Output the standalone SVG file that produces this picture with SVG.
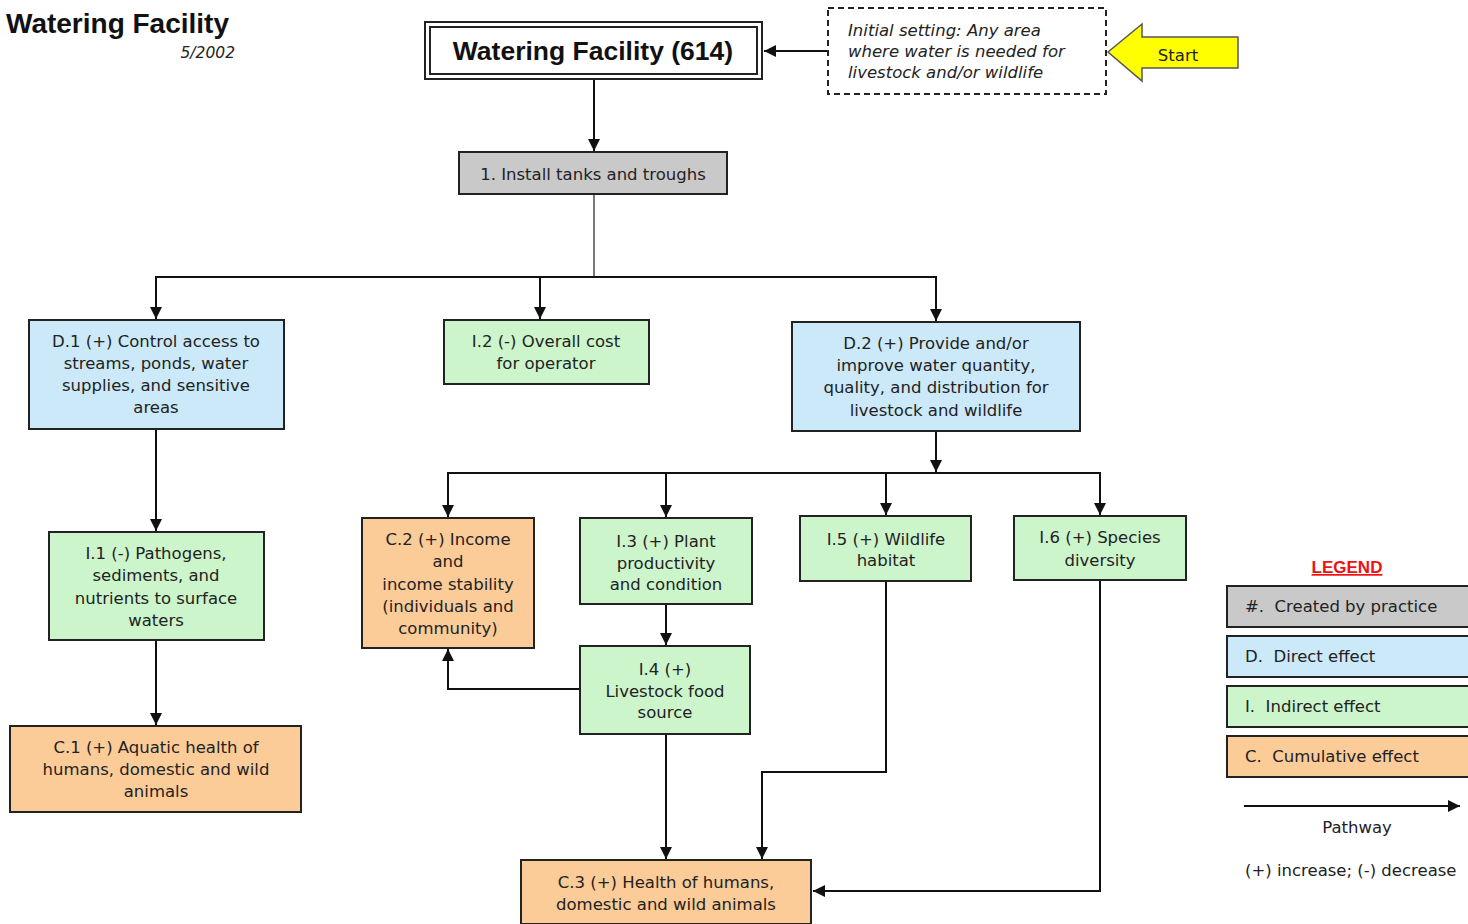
<svg xmlns="http://www.w3.org/2000/svg" width="1468" height="924" viewBox="0 0 1468 924">
<style>
.t{font-family:"DejaVu Sans","Liberation Sans",Arial,sans-serif;font-size:16.5px;fill:#222;text-anchor:middle}
.l{font-family:"DejaVu Sans","Liberation Sans",Arial,sans-serif;font-size:16.5px;fill:#222;white-space:pre}
.box{stroke:#222;stroke-width:2}
.g{fill:#c9c9c9}.b{fill:#cce9f9}.gr{fill:#ccf5cc}.o{fill:#fbcb98}
.c{fill:none;stroke:#111;stroke-width:2}
</style>
<defs>
<marker id="ah" viewBox="0 0 10 10" refX="10" refY="5" markerWidth="6" markerHeight="6" orient="auto" markerUnits="strokeWidth">
<path d="M0,0 L10,5 L0,10 z" fill="#111"/>
</marker>
</defs>
<rect width="1468" height="924" fill="#fff"/>
<g id="title">
<text x="6" y="33" font-family="Liberation Sans,Arial,sans-serif" font-size="28" font-weight="bold" fill="#111">Watering Facility</text>
<text x="235" y="58" font-family="DejaVu Sans,Liberation Sans,sans-serif" font-size="15.5" font-style="italic" fill="#222" text-anchor="end">5/2002</text>
</g>
<g id="connectors">
<line class="c" x1="828" y1="51" x2="764" y2="51" marker-end="url(#ah)"/>
<line class="c" x1="594" y1="79" x2="594" y2="151" marker-end="url(#ah)"/>
<line x1="594" y1="194" x2="594" y2="277" stroke="#777" stroke-width="2"/>
<line class="c" x1="155" y1="277" x2="937" y2="277"/>
<line class="c" x1="156" y1="277" x2="156" y2="319" marker-end="url(#ah)"/>
<line class="c" x1="540" y1="277" x2="540" y2="319" marker-end="url(#ah)"/>
<line class="c" x1="936" y1="277" x2="936" y2="321" marker-end="url(#ah)"/>
<line class="c" x1="156" y1="429" x2="156" y2="531" marker-end="url(#ah)"/>
<line class="c" x1="156" y1="640" x2="156" y2="725" marker-end="url(#ah)"/>
<line class="c" x1="936" y1="431" x2="936" y2="472" marker-end="url(#ah)"/>
<line class="c" x1="447" y1="473" x2="1101" y2="473"/>
<line class="c" x1="448" y1="473" x2="448" y2="517" marker-end="url(#ah)"/>
<line class="c" x1="666" y1="473" x2="666" y2="517" marker-end="url(#ah)"/>
<line class="c" x1="886" y1="473" x2="886" y2="515" marker-end="url(#ah)"/>
<line class="c" x1="1100" y1="473" x2="1100" y2="515" marker-end="url(#ah)"/>
<line class="c" x1="666" y1="604" x2="666" y2="645" marker-end="url(#ah)"/>
<polyline class="c" points="580,689 448,689 448,649" marker-end="url(#ah)"/>
<line class="c" x1="666" y1="734" x2="666" y2="859" marker-end="url(#ah)"/>
<polyline class="c" points="886,581 886,772 762,772 762,859" marker-end="url(#ah)"/>
<polyline class="c" points="1100,580 1100,891 813,891" marker-end="url(#ah)"/>
</g>
<g id="main">
<rect x="425" y="22" width="337" height="57" fill="#fff" stroke="#222" stroke-width="2"/>
<rect x="430" y="27" width="327" height="47" fill="none" stroke="#222" stroke-width="2"/>
<text x="593" y="60" font-family="Liberation Sans,Arial,sans-serif" font-size="26.5" font-weight="bold" fill="#111" text-anchor="middle">Watering Facility (614)</text>
</g>
<g id="initial">
<rect x="828" y="8" width="278" height="86" fill="#fff" stroke="#222" stroke-width="2" stroke-dasharray="6,4"/>
<text class="l" font-style="italic"><tspan x="848" y="36">Initial setting: Any area</tspan><tspan x="848" y="57">where water is needed for</tspan><tspan x="848" y="78">livestock and/or wildlife</tspan></text>
</g>
<g id="start">
<polygon points="1108,52 1142,24 1142,37 1238,37 1238,68 1142,68 1142,81" fill="#ffff00" stroke="#555" stroke-width="1.5"/>
<text class="t" x="1178" y="61">Start</text>
</g>
<g id="n1">
<rect class="box g" x="459" y="152" width="268" height="42"/>
<text class="t" x="593" y="180">1. Install tanks and troughs</text>
</g>
<g id="d1">
<rect class="box b" x="29" y="320" width="255" height="109"/>
<text class="t"><tspan x="156" y="347">D.1 (+) Control access to</tspan><tspan x="156" y="369">streams, ponds, water</tspan><tspan x="156" y="391">supplies, and sensitive</tspan><tspan x="156" y="413">areas</tspan></text>
</g>
<g id="i2">
<rect class="box gr" x="444" y="320" width="205" height="64"/>
<text class="t"><tspan x="546" y="347">I.2 (-) Overall cost</tspan><tspan x="546" y="369">for operator</tspan></text>
</g>
<g id="d2">
<rect class="box b" x="792" y="322" width="288" height="109"/>
<text class="t"><tspan x="936" y="349">D.2 (+) Provide and/or</tspan><tspan x="936" y="371">improve water quantity,</tspan><tspan x="936" y="393">quality, and distribution for</tspan><tspan x="936" y="416">livestock and wildlife</tspan></text>
</g>
<g id="i1">
<rect class="box gr" x="49" y="532" width="215" height="108"/>
<text class="t"><tspan x="156" y="559">I.1 (-) Pathogens,</tspan><tspan x="156" y="581">sediments, and</tspan><tspan x="156" y="604">nutrients to surface</tspan><tspan x="156" y="626">waters</tspan></text>
</g>
<g id="c1">
<rect class="box o" x="10" y="726" width="291" height="86"/>
<text class="t"><tspan x="156" y="753">C.1 (+) Aquatic health of</tspan><tspan x="156" y="775">humans, domestic and wild</tspan><tspan x="156" y="797">animals</tspan></text>
</g>
<g id="c2">
<rect class="box o" x="362" y="518" width="172" height="130"/>
<text class="t"><tspan x="448" y="545">C.2 (+) Income</tspan><tspan x="448" y="567">and</tspan><tspan x="448" y="590">income stability</tspan><tspan x="448" y="612">(individuals and</tspan><tspan x="448" y="634">community)</tspan></text>
</g>
<g id="i3">
<rect class="box gr" x="580" y="518" width="172" height="86"/>
<text class="t"><tspan x="666" y="547">I.3 (+) Plant</tspan><tspan x="666" y="569">productivity</tspan><tspan x="666" y="590">and condition</tspan></text>
</g>
<g id="i5">
<rect class="box gr" x="800" y="516" width="171" height="65"/>
<text class="t"><tspan x="886" y="545">I.5 (+) Wildlife</tspan><tspan x="886" y="566">habitat</tspan></text>
</g>
<g id="i6">
<rect class="box gr" x="1014" y="516" width="172" height="64"/>
<text class="t"><tspan x="1100" y="543">I.6 (+) Species</tspan><tspan x="1100" y="566">diversity</tspan></text>
</g>
<g id="i4">
<rect class="box gr" x="580" y="646" width="170" height="88"/>
<text class="t"><tspan x="665" y="675">I.4 (+)</tspan><tspan x="665" y="697">Livestock food</tspan><tspan x="665" y="718">source</tspan></text>
</g>
<g id="c3">
<rect class="box o" x="521" y="860" width="290" height="64"/>
<text class="t"><tspan x="666" y="888">C.3 (+) Health of humans,</tspan><tspan x="666" y="910">domestic and wild animals</tspan></text>
</g>
<g id="legend">
<text x="1347" y="573" font-family="Liberation Sans,Arial,sans-serif" font-size="17" font-weight="bold" fill="#ee1111" text-anchor="middle" text-decoration="underline">LEGEND</text>
<rect class="box g" x="1227" y="586" width="250" height="41"/>
<text class="l" x="1245" y="612">#.  Created by practice</text>
<rect class="box b" x="1227" y="636" width="250" height="41"/>
<text class="l" x="1245" y="662">D.  Direct effect</text>
<rect class="box gr" x="1227" y="686" width="250" height="41"/>
<text class="l" x="1245" y="712">I.  Indirect effect</text>
<rect class="box o" x="1227" y="736" width="250" height="41"/>
<text class="l" x="1245" y="762">C.  Cumulative effect</text>
<line class="c" x1="1244" y1="806" x2="1460" y2="806" marker-end="url(#ah)"/>
<text class="t" x="1357" y="833">Pathway</text>
<text class="l" x="1245" y="876">(+) increase; (-) decrease</text>
</g>
</svg>
